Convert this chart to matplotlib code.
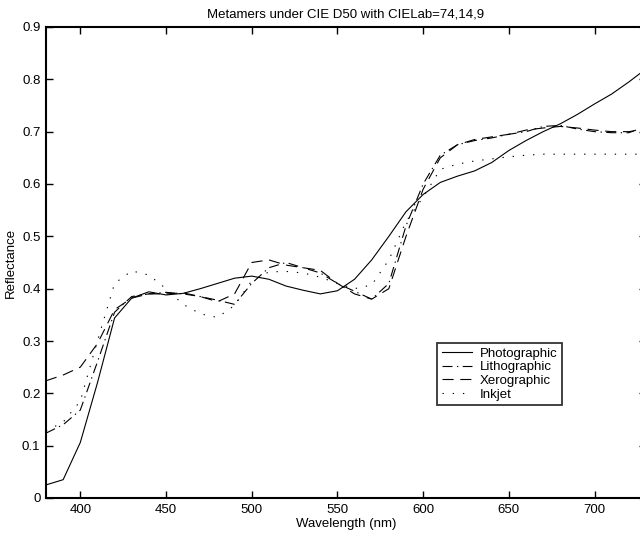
import matplotlib
matplotlib.use("Agg")
import matplotlib.pyplot as plt
from matplotlib.ticker import FuncFormatter, MultipleLocator
import numpy as np

wavelength = list(range(380, 731, 10))

photographic = [0.025, 0.035, 0.106, 0.22, 0.344, 0.382, 0.394, 0.388, 0.391, 0.400,
                0.410, 0.420, 0.424, 0.418, 0.405, 0.397, 0.390, 0.396, 0.418, 0.455,
                0.500, 0.547, 0.580, 0.603, 0.615, 0.625, 0.641, 0.664, 0.683, 0.700,
                0.715, 0.733, 0.753, 0.772, 0.795, 0.820]

lithographic = [0.124, 0.140, 0.168, 0.260, 0.355, 0.385, 0.390, 0.393, 0.390, 0.385,
                0.378, 0.370, 0.410, 0.440, 0.450, 0.440, 0.430, 0.410, 0.395, 0.380,
                0.410, 0.520, 0.600, 0.655, 0.675, 0.683, 0.688, 0.695, 0.700, 0.710,
                0.712, 0.705, 0.700, 0.698, 0.698, 0.710]

xerographic = [0.224, 0.235, 0.250, 0.295, 0.360, 0.382, 0.390, 0.390, 0.392, 0.385,
               0.375, 0.390, 0.450, 0.455, 0.445, 0.440, 0.435, 0.410, 0.390, 0.380,
               0.400, 0.500, 0.590, 0.650, 0.675, 0.685, 0.690, 0.695, 0.703, 0.707,
               0.710, 0.707, 0.703, 0.700, 0.700, 0.705]

inkjet = [0.128, 0.145, 0.185, 0.300, 0.410, 0.434, 0.426, 0.400, 0.370, 0.352,
          0.345, 0.368, 0.415, 0.432, 0.433, 0.430, 0.422, 0.410, 0.400, 0.407,
          0.455, 0.528, 0.575, 0.628, 0.638, 0.644, 0.648, 0.652, 0.655, 0.657,
          0.657, 0.657, 0.657, 0.657, 0.657, 0.657]

series_names = ["Photographic", "Lithographic", "Xerographic", "Inkjet"]

plt.rcParams['font.family'] = ['Liberation Sans', 'DejaVu Sans']

fig = plt.figure(figsize=(6.4, 5.38), dpi=100)
ax = fig.add_axes([46/640, 1-498/538, 600/640, 471/538])

lw = 0.8
ax.plot(wavelength, photographic, color='black', lw=lw, linestyle='-', label=series_names[0])
ax.plot(wavelength, lithographic, color='black', lw=lw, linestyle=(0, (9, 4, 1.2, 4)), label=series_names[1])
ax.plot(wavelength, xerographic, color='black', lw=lw, linestyle=(0, (10, 6)), label=series_names[2])
ax.plot(wavelength, inkjet, color='black', lw=lw, linestyle=(0, (1.2, 8)), label=series_names[3])

ax.set_xlim(380, 730)
ax.set_ylim(0, 0.9)
ax.xaxis.set_major_locator(MultipleLocator(50))
ax.yaxis.set_major_locator(MultipleLocator(0.1))
ax.yaxis.set_major_formatter(FuncFormatter(lambda v, p: "0" if abs(v) < 1e-9 else f"{v:.1f}"))
ax.set_xticks([400, 450, 500, 550, 600, 650, 700])

ax.tick_params(direction='in', length=5, width=1.0, top=True, right=True,
               labelsize=9.5, colors='black', pad=4)
for s in ax.spines.values():
    s.set_linewidth(1.5)
    s.set_color('black')

ax.set_xlabel("Wavelength (nm)", fontsize=9.5, labelpad=2)
ax.set_ylabel("Reflectance", fontsize=9.5, labelpad=4)
ax.set_title("Metamers under CIE D50 with CIELab=74,14,9", fontsize=9.5, pad=7)

leg = ax.legend(loc='upper left', bbox_to_anchor=((437-46)/600, (498-343)/471),
                fontsize=9.5, frameon=True, fancybox=False, handlelength=2.3,
                handletextpad=0.6, borderpad=0.35, labelspacing=0.1,
                borderaxespad=0)
leg.get_frame().set_edgecolor('black')
leg.get_frame().set_linewidth(1.3)

fig.savefig("out.png", dpi=100)
